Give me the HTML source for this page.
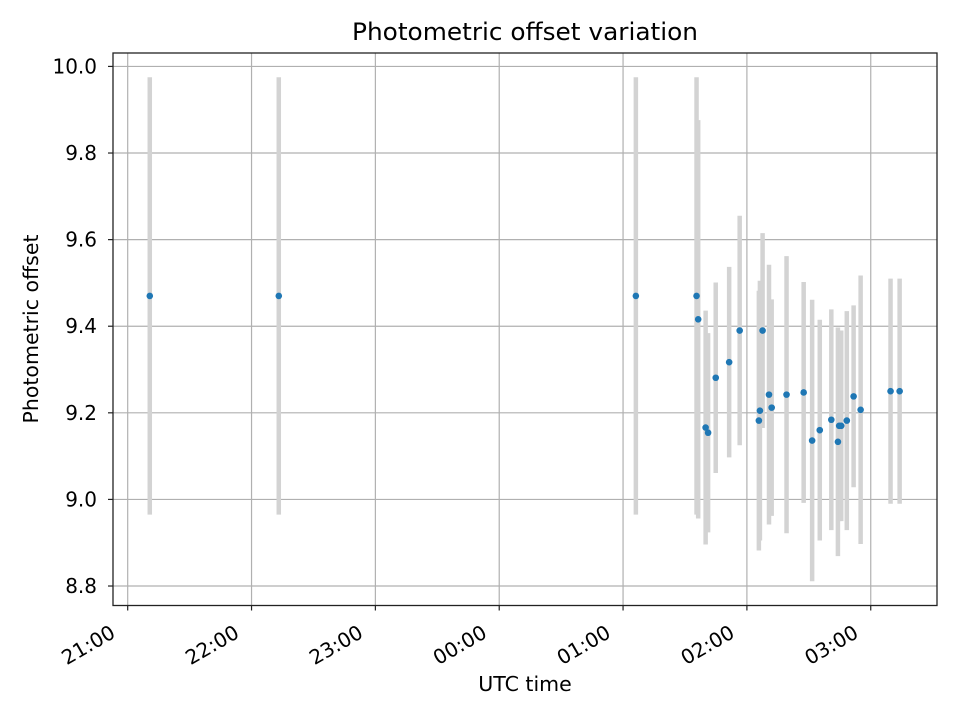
<!DOCTYPE html>
<html><head><meta charset="utf-8"><style>
body{margin:0;background:#fff}
svg text{font-family:"DejaVu Sans","Liberation Sans",sans-serif;fill:#000}
</style></head><body>
<svg id="chart" width="960" height="720" xmlns="http://www.w3.org/2000/svg">
<rect width="960" height="720" fill="#fff"/>
<text x="525" y="40" font-size="24" text-anchor="middle" textLength="346" lengthAdjust="spacingAndGlyphs">Photometric offset variation</text>
<g id="grid"></g><g id="bars"></g><g id="pts"></g><g id="axes"></g>
<text x="525" y="691" font-size="20.5" text-anchor="middle">UTC time</text>
<text transform="translate(38,329) rotate(-90)" font-size="20.5" text-anchor="middle">Photometric offset</text>
</svg>
<script>
// minutes after 21:00 UTC
const times=[10.7,73.2,246.2,275.6,276.4,280.0,281.2,284.9,291.4,296.5,305.8,306.3,307.6,310.7,312.0,319.2,327.5,331.6,335.3,340.9,344.1,344.7,345.7,348.4,351.7,355.1,369.6,374.0];
const offsets=[9.47,9.47,9.47,9.47,9.416,9.166,9.154,9.281,9.317,9.39,9.182,9.205,9.39,9.242,9.212,9.242,9.247,9.136,9.16,9.184,9.133,9.17,9.17,9.182,9.238,9.207,9.25,9.25];
const errors=[0.505,0.505,0.505,0.505,0.46,0.27,0.23,0.22,0.22,0.265,0.30,0.30,0.225,0.30,0.25,0.32,0.255,0.325,0.255,0.255,0.264,0.22,0.22,0.253,0.21,0.31,0.26,0.26];
const yTicks=[8.8,9.0,9.2,9.4,9.6,9.8,10.0];
const xTickMins=[0,60,120,180,240,300,360];
const xTickLabels=["21:00","22:00","23:00","00:00","01:00","02:00","03:00"];

const L=113,R=937,T=53,B=605.5;
const xMin=-7.12,xMax=392.1,yMin=8.755,yMax=10.031;
const X=m=>L+(m-xMin)/(xMax-xMin)*(R-L);
const Y=v=>B-(v-yMin)/(yMax-yMin)*(B-T);
const NS="http://www.w3.org/2000/svg";
function mk(tag,parent,attrs){const e=document.createElementNS(NS,tag);for(const k in attrs)e.setAttribute(k,attrs[k]);document.getElementById(parent).appendChild(e);return e;}

yTicks.forEach(v=>{
  const g=mk('line','grid',{x1:L,x2:R,y1:Y(v),y2:Y(v),stroke:'#b0b0b0','stroke-width':1.2});
  
  
  const t=mk('line','axes',{x1:L-5,x2:L,y1:Y(v),y2:Y(v),stroke:'#222','stroke-width':1.2});
  
  
  const tx=mk('text','axes',{x:L-16,y:Y(v)+7,'font-size':20,'text-anchor':'end'});
  tx.textContent=v.toFixed(1);
  
  
});
xTickMins.forEach((m,i)=>{
  const g=mk('line','grid',{x1:X(m),x2:X(m),y1:T,y2:B,stroke:'#b0b0b0','stroke-width':1.2});
  
  
  const t=mk('line','axes',{x1:X(m),x2:X(m),y1:B,y2:B+5,stroke:'#222','stroke-width':1.2});
  
  
  const tx=mk('text','axes',{transform:`translate(${X(m)-11},${B+31}) rotate(-30)`,'font-size':20,'text-anchor':'end'});
  tx.textContent=xTickLabels[i];
  
  
});
times.forEach((m,i)=>{
  const b=mk('line','bars',{x1:X(m),x2:X(m),y1:Y(offsets[i]+errors[i]),y2:Y(offsets[i]-errors[i]),stroke:'#d3d3d3','stroke-width':4.5});
  
  
  const p=mk('circle','pts',{cx:X(m),cy:Y(offsets[i]),r:3.3,fill:'#1f77b4'});
  
  
});
const f=mk('rect','axes',{x:L,y:T,width:R-L,height:B-T,fill:'none',stroke:'#222','stroke-width':1.3});


</script>
</body></html>
